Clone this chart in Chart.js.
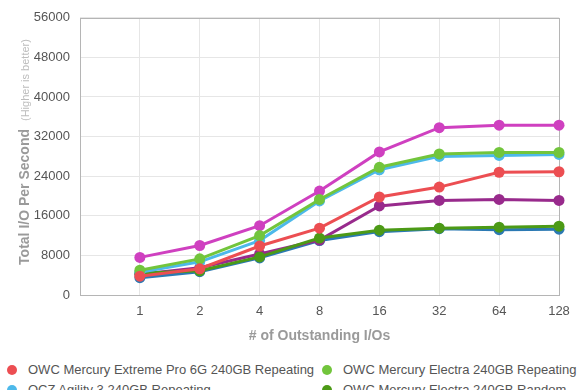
<!DOCTYPE html>
<html>
<head>
<meta charset="utf-8">
<script src="https://cdn.jsdelivr.net/npm/chart.js@4.4.1/dist/chart.umd.min.js"></script>
<style>
  html, body { margin: 0; padding: 0; background: #fff; overflow: hidden; }
  #wrap { position: relative; width: 580px; height: 345px; }
  #legend { position: absolute; left: 0; top: 361px; width: 580px; font-family: "Liberation Sans", Arial, sans-serif; font-size: 13px; color: #555; }
  .item { position: absolute; height: 18px; line-height: 18px; white-space: nowrap; }
  .dot { position: absolute; left: 0; top: 4px; width: 10px; height: 10px; border-radius: 50%; }
  .lbl { position: absolute; left: 21px; top: 0; }
</style>
</head>
<body>
<div id="wrap"><canvas id="c" width="580" height="345"></canvas></div>
<div id="legend"></div>
<script>
const xLabels = ['1', '2', '4', '8', '16', '32', '64', '128'];
const yTicks = [0, 8000, 16000, 24000, 32000, 40000, 48000, 56000];

const seriesNames = [
  'OWC Mercury Extreme Pro 6G 240GB Repeating',
  'OWC Mercury Electra 240GB Repeating',
  'OCZ Agility 3 240GB Repeating',
  'OWC Mercury Electra 240GB Random',
  'OWC Mercury Extreme Pro 6G 240GB Random',
  'OCZ Agility 3 240GB Random',
  'Intel 510 250GB Random'
];
const seriesColors = ['#ec4e52', '#72c53c', '#4db9ea', '#4c9a16', '#cf40c0', '#982a8c', '#2b79b3'];

const extremeProRepeating = [3800, 5300, 9900, 13500, 19800, 21800, 24800, 24900];
const electraRepeating    = [5000, 7300, 12000, 19300, 25800, 28500, 28800, 28800];
const agilityRepeating    = [4600, 6700, 11000, 19000, 25300, 28000, 28200, 28400];
const electraRandom       = [4400, 4900, 7700, 11500, 13100, 13500, 13700, 13900];
const extremeProRandom    = [7600, 10000, 14000, 21000, 28900, 33800, 34300, 34300];
const agilityRandom       = [4200, 5500, 8300, 11100, 18000, 19100, 19300, 19100];
const intelRandom         = [3500, 4700, 7500, 11000, 12800, 13400, 13200, 13300];

const seriesValues = [extremeProRepeating, electraRepeating, agilityRepeating, electraRandom,
                      extremeProRandom, agilityRandom, intelRandom];

const datasets = seriesNames.map((name, i) => ({
  label: name,
  data: seriesValues[i].map((v, j) => ({ x: j + 1, y: v })),
  borderColor: seriesColors[i],
  backgroundColor: seriesColors[i],
  pointBackgroundColor: seriesColors[i],
  pointBorderColor: seriesColors[i],
  borderWidth: 3,
  pointRadius: 5.5,
  pointBorderWidth: 0,
  tension: 0,
  clip: false
}));

const frame = {
  id: 'frame',
  beforeDatasetsDraw(chart) {
    const a = chart.chartArea, ctx = chart.ctx;
    ctx.save();
    ctx.strokeStyle = '#b5b5b5';
    ctx.lineWidth = 1;
    ctx.strokeRect(Math.round(a.left) + 0.5, Math.round(a.top) + 0.5,
                   Math.round(a.right - a.left), Math.round(a.bottom - a.top));
    ctx.restore();
  },
  afterDraw(chart) {
    const a = chart.chartArea, ctx = chart.ctx;
    ctx.save();
    const cy = 152;
    ctx.translate(25, cy);
    ctx.rotate(-Math.PI / 2);
    ctx.textBaseline = 'middle';
    ctx.textAlign = 'left';
    const t1 = 'Total I/O Per Second', t2 = '(Higher is better)';
    ctx.font = 'bold 14px "Liberation Sans", Arial, sans-serif';
    const w1 = ctx.measureText(t1).width;
    ctx.font = '11px "Liberation Sans", Arial, sans-serif';
    const w2 = ctx.measureText(t2).width;
    const gap = 8;
    const start = -(w1 + gap + w2) / 2;
    ctx.font = 'bold 14px "Liberation Sans", Arial, sans-serif';
    ctx.fillStyle = '#9a9a9a';
    ctx.fillText(t1, start, 0);
    ctx.font = '11px "Liberation Sans", Arial, sans-serif';
    ctx.fillStyle = '#bdbdbd';
    ctx.fillText(t2, start + w1 + gap, 1);
    ctx.restore();
  }
};

new Chart(document.getElementById('c'), {
  type: 'line',
  data: { datasets },
  options: {
    responsive: false,
    animation: false,
    layout: { padding: { top: 15, right: 21, left: 0, bottom: 0 } },
    plugins: { legend: { display: false }, tooltip: { enabled: false } },
    scales: {
      x: {
        type: 'linear',
        min: 0, max: 8,
        afterBuildTicks(scale) { scale.ticks = [0,1,2,3,4,5,6,7,8].map(v => ({ value: v })); },
        afterFit(scale) { scale.height = 50; },
        grid: { color: '#e6e6e6', drawTicks: false },
        border: { display: false },
        ticks: {
          padding: 9,
          color: '#555',
          font: { family: '"Liberation Sans", Arial, sans-serif', size: 13 },
          callback: (v) => v >= 1 ? xLabels[v - 1] : ''
        },
        title: {
          display: true,
          text: '# of Outstanding I/Os',
          color: '#9a9a9a',
          font: { family: '"Liberation Sans", Arial, sans-serif', size: 14, weight: 'bold' },
          padding: { top: 6, bottom: 0 }
        }
      },
      y: {
        min: 0, max: 56000,
        afterBuildTicks(scale) { scale.ticks = yTicks.map(v => ({ value: v })); },
        afterFit(scale) { scale.width = 80; },
        grid: { color: '#e6e6e6', drawTicks: false },
        border: { display: false },
        ticks: {
          padding: 10,
          color: '#555',
          font: { family: '"Liberation Sans", Arial, sans-serif', size: 13 },
          callback: (v) => String(v)
        }
      }
    }
  },
  plugins: [frame]
});

const legend = document.getElementById('legend');
seriesNames.forEach((name, i) => {
  const col = i % 2, row = Math.floor(i / 2);
  const it = document.createElement('div');
  it.className = 'item';
  it.style.left = (col === 0 ? 7 : 322) + 'px';
  it.style.top = (row * 20) + 'px';
  const d = document.createElement('span');
  d.className = 'dot';
  d.style.background = seriesColors[i];
  const l = document.createElement('span');
  l.className = 'lbl';
  l.textContent = name;
  it.appendChild(d); it.appendChild(l);
  legend.appendChild(it);
});
</script>
</body>
</html>
